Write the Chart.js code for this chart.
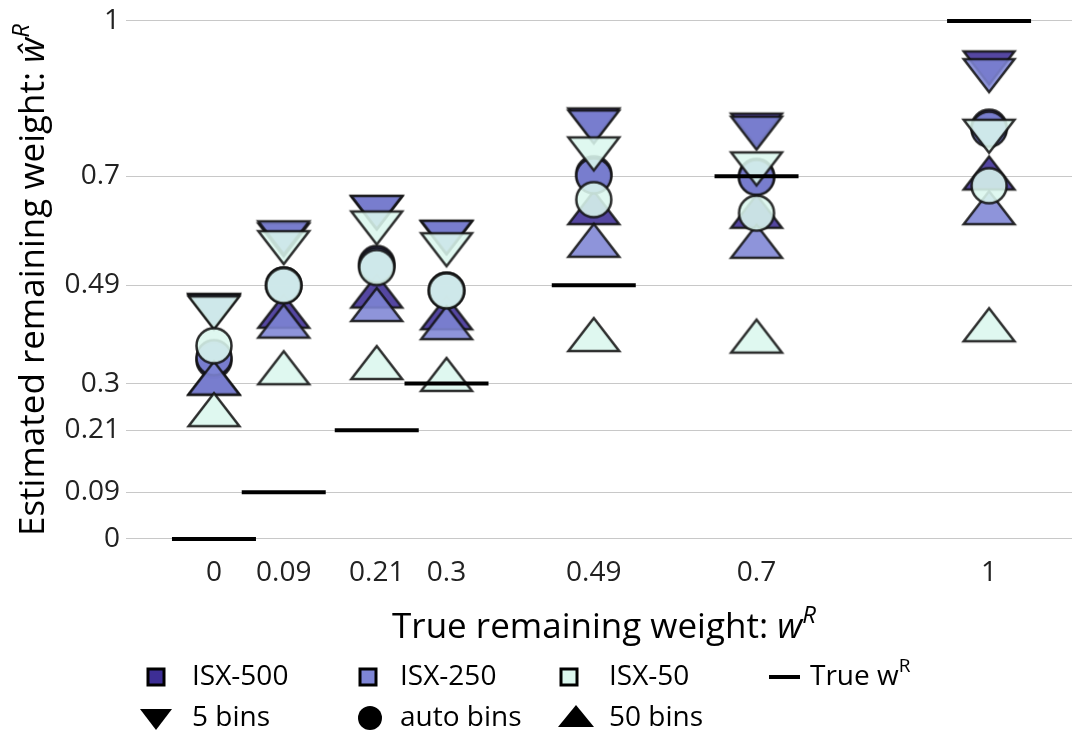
<!DOCTYPE html>
<html>
<head>
<meta charset="utf-8">
<script src="https://cdn.jsdelivr.net/npm/chart.js@4"></script>
<style>
  html, body { margin: 0; padding: 0; background: #fff; }
</style>
</head>
<body>
<canvas id="chWeights" width="1072" height="738"></canvas>
<script>
/* estimated vs true remaining weight */

// data
var trueWeights = [0, 0.09, 0.21, 0.3, 0.49, 0.7, 1];
var tickValues = [0, 0.09, 0.21, 0.3, 0.49, 0.7, 1];

var isx500Bins5    = [0.452, 0.588, 0.640, 0.592, 0.810, 0.800, 0.920];
var isx500BinsAuto = [0.345, 0.490, 0.532, 0.480, 0.705, 0.700, 0.795];
var isx500Bins50   = [0.300, 0.429, 0.468, 0.426, 0.629, 0.622, 0.696];

var isx250Bins5    = [0.450, 0.592, 0.641, 0.593, 0.806, 0.794, 0.905];
var isx250BinsAuto = [0.350, 0.490, 0.528, 0.480, 0.701, 0.698, 0.791];
var isx250Bins50   = [0.300, 0.410, 0.442, 0.407, 0.566, 0.564, 0.629];

var isx50Bins5     = [0.447, 0.573, 0.611, 0.569, 0.754, 0.725, 0.788];
var isx50BinsAuto  = [0.373, 0.489, 0.524, 0.479, 0.655, 0.629, 0.682];
var isx50Bins50    = [0.239, 0.320, 0.330, 0.307, 0.384, 0.381, 0.403];

var seriesNames = ['ISX-500', 'ISX-250', 'ISX-50'];
var binNames = ['5 bins', 'auto bins', '50 bins'];

// colors
var colors = ['#3d2e95', '#7e85d5', '#dbf7ee'];
var fontFam = "'Open Sans', sans-serif";

// marker images (plotly-like wide triangles)
function makeMarker(shape, fill, alpha) {
  var c = document.createElement('canvas');
  c.width = 64; c.height = 64;
  var g = c.getContext('2d');
  var cx = 32, cy = 32;
  var r = 22, rt = r * 2 / Math.sqrt(3);
  g.globalAlpha = alpha;
  g.beginPath();
  if (shape === 'up') {
    g.moveTo(cx - rt, cy + r / 2); g.lineTo(cx + rt, cy + r / 2); g.lineTo(cx, cy - r);
  } else if (shape === 'down') {
    g.moveTo(cx - rt, cy - r / 2); g.lineTo(cx + rt, cy - r / 2); g.lineTo(cx, cy + r);
  } else {
    g.arc(cx, cy, 17.5, 0, Math.PI * 2);
  }
  g.closePath();
  g.fillStyle = fill;
  g.fill();
  g.lineWidth = 2.5;
  g.strokeStyle = '#111';
  g.stroke();
  return c;
}

function pts(ys) {
  return trueWeights.map(function (x, i) { return {x: x, y: ys[i]}; });
}

var allSeries = [
  [isx500Bins5, isx500BinsAuto, isx500Bins50],
  [isx250Bins5, isx250BinsAuto, isx250Bins50],
  [isx50Bins5, isx50BinsAuto, isx50Bins50]
];
var shapes = ['down', 'circle', 'up'];

var datasets = [];
var ord = 100;
allSeries.forEach(function (group, si) {
  group.forEach(function (ys, bi) {
    datasets.push({
      label: seriesNames[si] + ' ' + binNames[bi],
      data: pts(ys),
      pointStyle: makeMarker(shapes[bi], colors[si], 0.88),
      pointRadius: 20,
      order: ord--
    });
  });
});

datasets.push({
  label: 'True wR',
  data: pts(trueWeights),
  pointStyle: 'line',
  pointRadius: 42,
  borderWidth: 4,
  borderColor: '#000',
  order: 0
});

// axis titles + legend drawn by hand (superscripts, two rows)
function drawSup(ctx, parts, x, y, align) {
  var total = 0;
  parts.forEach(function (p) { ctx.font = p.font; p.w = ctx.measureText(p.t).width; total += p.w; });
  var px = align === 'center' ? x - total / 2 : x;
  parts.forEach(function (p) {
    ctx.font = p.font;
    ctx.fillText(p.t, px, y - (p.dy || 0));
    px += p.w;
  });
}

var decorPlugin = {
  id: 'decor',
  afterDraw: function (chart) {
    var ctx = chart.ctx;
    ctx.save();
    ctx.fillStyle = '#000';
    ctx.textAlign = 'left';
    ctx.textBaseline = 'alphabetic';

    // x title
    drawSup(ctx, [
      {t: 'True remaining weight: ', font: '35px ' + fontFam},
      {t: 'w', font: 'italic 35px ' + fontFam},
      {t: 'R', font: 'italic 24px ' + fontFam, dy: 15}
    ], 604, 638, 'center');

    // y title
    ctx.save();
    ctx.translate(44, 280);
    ctx.rotate(-Math.PI / 2);
    drawSup(ctx, [
      {t: 'Estimated remaining weight: ', font: '35px ' + fontFam},
      {t: '\u0175', font: 'italic 35px ' + fontFam},
      {t: 'R', font: 'italic 24px ' + fontFam, dy: 15}
    ], 0, 0, 'center');
    ctx.restore();

    // legend row 1
    var row1 = 677, row2 = 718;
    var colX = [156, 368, 569];
    var textX = [192, 400, 609];
    ctx.textBaseline = 'middle';
    seriesNames.forEach(function (name, i) {
      ctx.fillStyle = colors[i];
      ctx.fillRect(colX[i] - 8, row1 - 8, 16, 16);
      ctx.lineWidth = 3;
      ctx.strokeStyle = '#000';
      ctx.strokeRect(colX[i] - 8, row1 - 8, 16, 16);
      ctx.fillStyle = '#000';
      ctx.font = '28px ' + fontFam;
      ctx.fillText(name, textX[i], row1);
    });
    ctx.beginPath();
    ctx.moveTo(769, row1); ctx.lineTo(800, row1);
    ctx.lineWidth = 4; ctx.strokeStyle = '#000'; ctx.stroke();
    ctx.fillStyle = '#000';
    drawSup(ctx, [
      {t: 'True w', font: '28px ' + fontFam},
      {t: 'R', font: '19px ' + fontFam, dy: 10}
    ], 810, row1, 'left');

    // legend row 2
    ctx.fillStyle = '#000';
    ctx.beginPath();
    ctx.moveTo(140, row2 - 9); ctx.lineTo(172, row2 - 9); ctx.lineTo(156, row2 + 12); ctx.closePath();
    ctx.fill();
    ctx.beginPath();
    ctx.arc(370, row2, 12, 0, Math.PI * 2);
    ctx.fill();
    ctx.beginPath();
    ctx.moveTo(558, row2 + 9); ctx.lineTo(594, row2 + 9); ctx.lineTo(576, row2 - 13); ctx.closePath();
    ctx.fill();
    ctx.font = '28px ' + fontFam;
    binNames.forEach(function (name, i) {
      ctx.fillText(name, textX[i], row2);
    });
    ctx.restore();
  }
};

function fixedTicks(scale) {
  scale.ticks = tickValues.map(function (v) { return {value: v}; });
}

var chWeights = document.getElementById('chWeights');
new Chart(chWeights, {
  type: 'scatter',
  data: {datasets: datasets},
  plugins: [decorPlugin],
  options: {
    responsive: false,
    devicePixelRatio: 1,
    animation: false,
    layout: {padding: 0, autoPadding: false},
    plugins: {legend: {display: false}, tooltip: {enabled: false}},
    scales: {
      x: {
        type: 'linear',
        min: -0.1135,
        max: 1.107,
        afterBuildTicks: fixedTicks,
        afterFit: function (s) { s.height = 183; s.paddingLeft = 0; s.paddingRight = 0; },
        grid: {display: false, drawTicks: false},
        border: {display: false},
        ticks: {
          padding: 1,
          color: '#222',
          font: {family: fontFam, size: 28},
          callback: function (v) { return String(v); }
        }
      },
      y: {
        min: -0.031,
        max: 1.0405,
        afterBuildTicks: fixedTicks,
        afterFit: function (s) { s.width = 126; s.paddingTop = 0; s.paddingBottom = 0; },
        grid: {color: '#c8c8c8', lineWidth: 1, drawTicks: false},
        border: {display: false},
        ticks: {
          padding: 6,
          color: '#222',
          font: {family: fontFam, size: 28},
          callback: function (v) { return String(v); }
        }
      }
    }
  }
});
</script>
</body>
</html>
